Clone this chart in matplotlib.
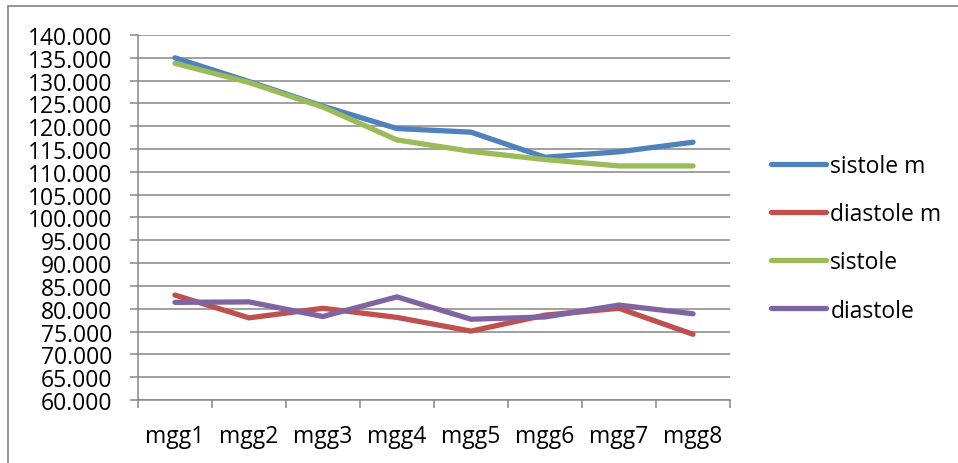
import matplotlib
matplotlib.use("Agg")
import matplotlib.pyplot as plt
from matplotlib.patches import Rectangle
from matplotlib.ticker import FixedLocator, FuncFormatter

# categories and series
categories = ["mgg1", "mgg2", "mgg3", "mgg4", "mgg5", "mgg6", "mgg7", "mgg8"]
sistole_m = [135.0, 129.8, 124.4, 119.5, 118.7, 113.2, 114.4, 116.5]
diastole_m = [83.0, 78.0, 80.1, 78.1, 75.1, 78.6, 80.1, 74.4]
sistole = [133.8, 129.6, 124.2, 117.0, 114.5, 112.7, 111.3, 111.3]
diastole = [81.4, 81.5, 78.3, 82.6, 77.7, 78.2, 80.8, 78.9]

series = [
    ("sistole m", sistole_m, "#4F81BD"),
    ("diastole m", diastole_m, "#C0504D"),
    ("sistole", sistole, "#9BBB59"),
    ("diastole", diastole, "#8064A2"),
]

plt.rcParams["font.family"] = ["Open Sans", "DejaVu Sans"]
grid_col = "#868686"

fig = plt.figure(figsize=(9.58, 4.64), dpi=100)
ax = fig.add_axes([0.144, 0.1358, 0.618, 0.7866])

x = list(range(len(categories)))
for name, vals, col in series:
    ax.plot(x, vals, color=col, lw=3.8, label=name,
            solid_capstyle="round", solid_joinstyle="round", zorder=3)

ax.set_xlim(-0.5, len(categories) - 0.5)
ax.set_ylim(60, 140)
ax.set_yticks(range(60, 141, 5))
ax.yaxis.set_major_formatter(FuncFormatter(lambda v, p: f"{v:.3f}"))
ax.grid(axis="y", color=grid_col, lw=1.1)
ax.set_axisbelow(True)

# tick marks between categories, labels at the centers
ax.xaxis.set_major_locator(FixedLocator([i - 0.5 for i in range(len(categories) + 1)]))
ax.xaxis.set_minor_locator(FixedLocator(x))
ax.set_xticklabels([])
ax.set_xticklabels(categories, minor=True)
ax.tick_params(axis="x", which="major", length=6, width=1.1, color=grid_col, direction="out")
ax.tick_params(axis="x", which="minor", length=0, pad=17, labelsize=16.5)
ax.tick_params(axis="y", length=5.5, width=1.1, color=grid_col, pad=13, labelsize=16.5)

for side in ("top", "right"):
    ax.spines[side].set_visible(False)
for side in ("left", "bottom"):
    ax.spines[side].set_color(grid_col)
    ax.spines[side].set_linewidth(1.1)

leg = fig.legend(loc="upper left", bbox_to_anchor=(0.795, 0.685), frameon=False,
                 fontsize=16.5, handlelength=2.4, handletextpad=0.2,
                 labelspacing=1.05, borderaxespad=0)
for ln in leg.get_lines():
    ln.set_linewidth(3.8)
    ln.set_solid_capstyle("round")

# outer chart border (only top and left fall inside the picture)
fig.patches.append(Rectangle((8 / 958, -0.2), 1.2, 1.2 - 7 / 464,
                             transform=fig.transFigure, fill=False,
                             edgecolor="#8c8c8c", lw=1.3))

fig.savefig("out.png", dpi=100)
